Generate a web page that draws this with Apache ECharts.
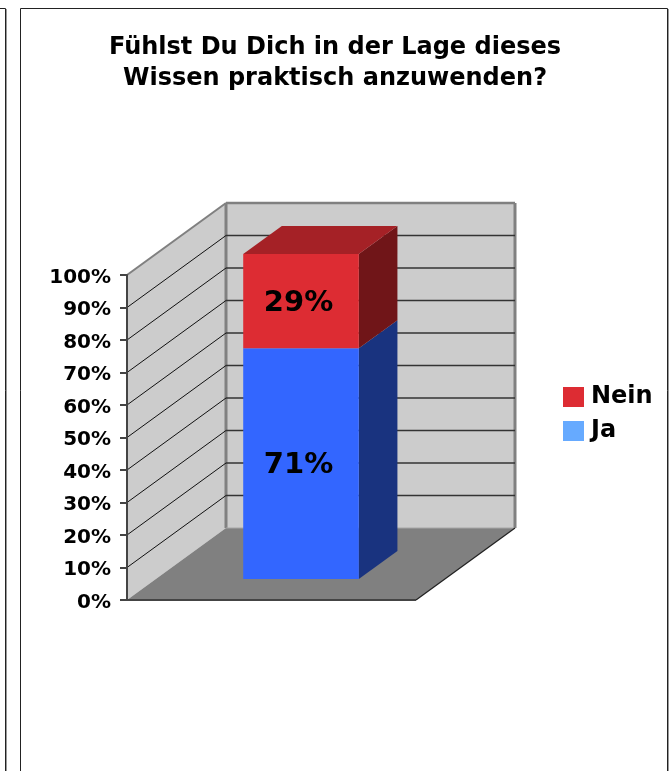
<!DOCTYPE html>
<html>
<head>
<meta charset="utf-8">
<style>
html,body{margin:0;padding:0;background:#fff;}
#chart{width:671px;height:771px;}
</style>
<script src="https://cdn.jsdelivr.net/npm/echarts@6/dist/echarts.min.js"></script>
</head>
<body>
<div id="chart"></div>
<script>
const categories = [''];
const titleLines = ['Fühlst Du Dich in der Lage dieses', 'Wissen praktisch anzuwenden?'];
const seriesNames = ['Ja', 'Nein'];
const jaValues = [71];
const neinValues = [29];
const wallTicks = [10, 20, 30, 40, 50, 60, 70, 80, 90];

// schräge Tiefe der Pseudo-3D-Ansicht, in Pixel
const DEPTH_X = 99;
const DEPTH_Y = 72;
const BAR_NEAR = 0.29;
const BAR_FAR = 0.68;
const BAR_WIDTH = 0.4;
const BAR_SHIFT = 0.8;

// Punkt auf der Achse nach hinten verschieben
function project(api, value, dx, depth) {
	const p = api.coord([0, value]);
	return [p[0] + dx + DEPTH_X * depth, p[1] - DEPTH_Y * depth];
}

function poly(points, fill) {
	return {type: 'polygon', shape: {points}, style: {fill}, silent: true};
}

function line(a, b, stroke, width) {
	return {type: 'line', shape: {x1: a[0], y1: a[1], x2: b[0], y2: b[1]}, style: {stroke, lineWidth: width}, silent: true};
}

function renderWalls(params, api) {
	const half = api.size([1, 0])[0] / 2;
	const lo = api.value(1);
	const hi = api.value(2);
	const P = (value, side, depth) => project(api, value, side * half, depth);
	return {type: 'group', children: [
		poly([P(lo, -1, 0), P(lo, -1, 1), P(hi, -1, 1), P(hi, -1, 0)], '#cccccc'),
		poly([P(lo, -1, 1), P(lo, 1, 1), P(hi, 1, 1), P(hi, -1, 1)], '#cccccc'),
		poly([P(lo, -1, 0), P(lo, 1, 0), P(lo, 1, 1), P(lo, -1, 1)], '#808080'),
		line(P(hi, -1, 0), P(hi, -1, 1), '#808080', 2),
		line(P(hi, -1, 1), P(hi, 1, 1), '#808080', 2.5),
		line(P(lo, -1, 1), P(hi, -1, 1), '#808080', 3),
		line(P(lo, 1, 1), P(hi, 1, 1), '#808080', 3),
		line(P(lo, -1, 1), P(lo, 1, 1), '#a6a6a6', 1),
		line(P(lo, 1, 0), P(lo, 1, 1), '#222222', 1.2),
		line(P(lo, -1, 0), P(lo, 1, 0), '#444444', 2)
	]};
}

function renderGrid(params, api) {
	const half = api.size([1, 0])[0] / 2;
	const v = api.value(1);
	return {type: 'group', children: [
		line(project(api, v, -half, 0), project(api, v, -half, 1), '#111111', 1),
		line(project(api, v, -half, 1), project(api, v, half, 1), '#333333', 1.6)
	]};
}

function barRenderer(front, side, top) {
	return function (params, api) {
		const half = api.size([1, 0])[0] * BAR_WIDTH / 2;
		const lo = api.value(1);
		const hi = api.value(2);
		const P = (value, s, depth) => project(api, value, s * half + BAR_SHIFT, depth);
		const children = [
			poly([P(lo, 1, BAR_NEAR), P(lo, 1, BAR_FAR), P(hi, 1, BAR_FAR), P(hi, 1, BAR_NEAR)], side),
			poly([P(lo, -1, BAR_NEAR), P(lo, 1, BAR_NEAR), P(hi, 1, BAR_NEAR), P(hi, -1, BAR_NEAR)], front)
		];
		if (top) {
			children.push(poly([P(hi, -1, BAR_NEAR), P(hi, 1, BAR_NEAR), P(hi, 1, BAR_FAR), P(hi, -1, BAR_FAR)], top));
		}
		const c = P((lo + hi) / 2, 0, BAR_NEAR);
		children.push({
			type: 'text', silent: true,
			style: {
				x: c[0] - 2.5, y: c[1] + 2, text: Math.round(hi - lo) + '%', fill: '#000',
				font: 'bold 29px "DejaVu Sans"', align: 'center', verticalAlign: 'middle'
			}
		});
		return {type: 'group', children};
	};
}

const chart = echarts.init(document.getElementById('chart'), null, {renderer: 'canvas'});
chart.setOption({
	animation: false,
	backgroundColor: '#ffffff',
	title: {
		text: titleLines.join('\n'),
		left: 330, top: 27, textAlign: 'center',
		textStyle: {fontFamily: '"DejaVu Sans"', fontWeight: 'bold', fontSize: 24, lineHeight: 31, color: '#000'}
	},
	legend: {
		orient: 'vertical', left: 563, top: 385,
		itemWidth: 21, itemHeight: 20, itemGap: 10,
		textStyle: {fontFamily: '"DejaVu Sans"', fontWeight: 'bold', fontSize: 24, color: '#000', padding: [0, 0, 0, 2]},
		data: [
			{name: seriesNames[1], icon: 'rect', itemStyle: {color: '#dd2c33'}},
			{name: seriesNames[0], icon: 'rect', itemStyle: {color: '#66aaff'}}
		],
		padding: 0, selectedMode: false
	},
	grid: {left: 127, top: 275, width: 289, height: 325},
	xAxis: {
		type: 'category', data: categories,
		axisLine: {show: false}, axisTick: {show: false}, axisLabel: {show: false}
	},
	yAxis: {
		type: 'value', min: 0, max: 100, interval: 10,
		z: 10,
		axisLine: {show: true, lineStyle: {color: '#444444', width: 2}},
		axisTick: {show: true, length: 7, lineStyle: {color: '#444444', width: 2}},
		splitLine: {show: false},
		axisLabel: {
			margin: 16, formatter: '{a|{value}%}',
			rich: {
				a: {
					color: '#000', padding: [5, 0, 0, 0],
					fontFamily: '"DejaVu Sans"', fontWeight: 'bold', fontSize: 20
				}
			}
		}
	},
	series: [
		{type: 'custom', name: 'walls', coordinateSystem: 'cartesian2d', z: 1, renderItem: renderWalls,
			data: [[0, 0, 100]], silent: true},
		{type: 'custom', name: 'grid', coordinateSystem: 'cartesian2d', z: 2, renderItem: renderGrid,
			data: wallTicks.map(v => [0, v]), silent: true},
		{type: 'custom', name: seriesNames[0], coordinateSystem: 'cartesian2d', z: 3,
			renderItem: barRenderer('#3366ff', '#19337f', null),
			itemStyle: {color: '#66aaff'},
			data: jaValues.map(v => [0, 0, v]), silent: true},
		{type: 'custom', name: seriesNames[1], coordinateSystem: 'cartesian2d', z: 4,
			renderItem: barRenderer('#dd2c33', '#701518', '#a52126'),
			itemStyle: {color: '#dd2c33'},
			data: neinValues.map((v, i) => [0, jaValues[i], jaValues[i] + v]), silent: true}
	],
	graphic: [
		{type: 'rect', shape: {x: -10, y: 8.5, width: 15.5, height: 800}, style: {fill: 'none', stroke: '#222222', lineWidth: 1}, silent: true},
		{type: 'line', shape: {x1: 6.5, y1: 9, x2: 6.5, y2: 771}, style: {stroke: '#999999', lineWidth: 1}, silent: true},
		{type: 'rect', shape: {x: 20.5, y: 8.5, width: 647, height: 800}, style: {fill: 'none', stroke: '#222222', lineWidth: 1}, silent: true},
		{type: 'line', shape: {x1: 668.5, y1: 9, x2: 668.5, y2: 771}, style: {stroke: '#999999', lineWidth: 1}, silent: true}
	]
});
window.addEventListener('resize', function () {
	chart.resize();
});
</script>
</body>
</html>
